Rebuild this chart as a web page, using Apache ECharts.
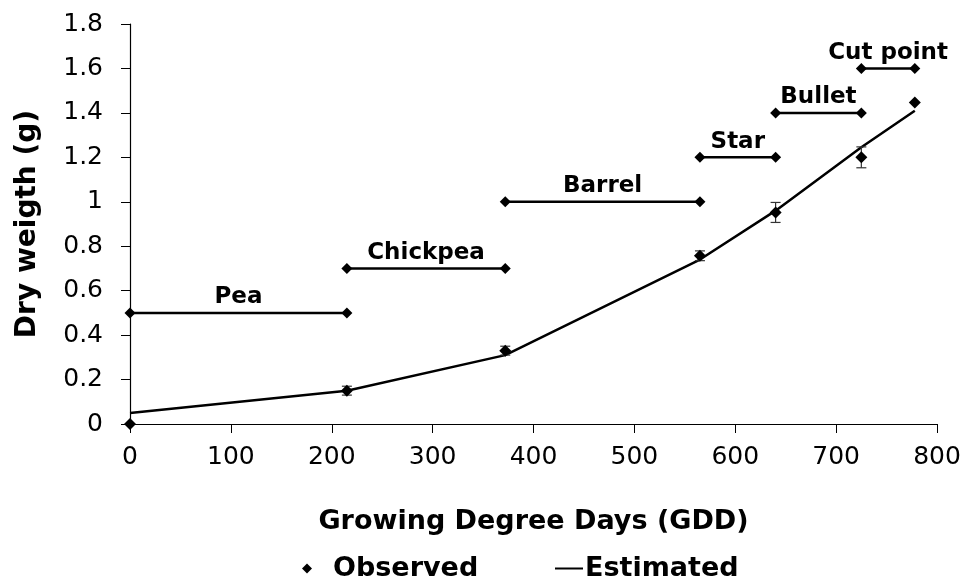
<!DOCTYPE html>
<html>
<head>
<meta charset="utf-8">
<script src="https://cdn.jsdelivr.net/npm/echarts@6/dist/echarts.min.js"></script>
<style>
  html, body { margin: 0; padding: 0; background: #fff; }
  #chart { width: 966px; height: 581px; }
</style>
</head>
<body>
<div id="chart"></div>
<script>
// observed dry weight with error bars
const obsGdd = [0, 215, 372, 565, 640, 725, 778];
const obsWeight = [0, 0.15, 0.33, 0.757, 0.952, 1.2, 1.447];
const obsErr = [0, 0.02, 0.02, 0.022, 0.045, 0.047, 0];

// fitted curve
const estGdd = [0, 215, 372, 565, 640, 725, 778];
const estWeight = [0.05, 0.15, 0.31, 0.74, 0.96, 1.245, 1.41];

// fruit development stages
const stageNames = ["Pea", "Chickpea", "Barrel", "Star", "Bullet", "Cut point"];
const stageStart = [0, 215, 372, 565, 640, 725];
const stageEnd = [215, 372, 565, 640, 725, 778];
const stageLevel = [0.5, 0.7, 1.0, 1.2, 1.4, 1.6];

const zip = (a, b) => a.map((v, i) => [v, b[i]]);
const font = "DejaVu Sans";

const stageSeries = stageNames.map((name, i) => ({
    type: "line",
    name: "stage-" + name,
    data: [[stageStart[i], stageLevel[i]], [stageEnd[i], stageLevel[i]]],
    symbol: "diamond",
    symbolSize: 11,
    showAllSymbol: true,
    itemStyle: { color: "#000" },
    lineStyle: { color: "#000", width: 2.5 },
    silent: true,
    z: 3
}));

const chart = echarts.init(document.getElementById("chart"));
chart.setOption({
    animation: false,
    backgroundColor: "#fff",
    textStyle: { fontFamily: font, color: "#000" },
    grid: { left: 130, right: 29, top: 24, bottom: 157 },
    legend: [{
        data: [{ name: "Observed", icon: "diamond" }],
        left: 297, top: 550,
        itemWidth: 10, itemHeight: 10, itemGap: 0,
        textStyle: { fontFamily: font, fontWeight: "bold", fontSize: 27, color: "#000", padding: [0, 0, 0, 16] }
    }, {
        data: [{ name: "Estimated", icon: "path://M0,0H28V2H0Z" }],
        left: 550, top: 550,
        itemWidth: 28, itemHeight: 2.5,
        textStyle: { fontFamily: font, fontWeight: "bold", fontSize: 27, color: "#000", padding: [0, 0, 0, -3] }
    }],
    xAxis: {
        type: "value",
        min: 0, max: 800, interval: 100,
        name: "Growing Degree Days (GDD)",
        nameLocation: "middle",
        nameGap: 84,
        nameTextStyle: { fontFamily: font, fontWeight: "bold", fontSize: 27, color: "#000" },
        axisLine: { lineStyle: { color: "#000", width: 1.2 } },
        axisTick: { inside: false, length: 9, lineStyle: { color: "#000" } },
        axisLabel: { fontFamily: font, fontSize: 25, color: "#000", margin: 21 },
        splitLine: { show: false }
    },
    yAxis: {
        type: "value",
        min: 0, max: 1.8, interval: 0.2,
        name: "Dry weigth (g)",
        nameLocation: "middle",
        nameGap: 88,
        nameTextStyle: { fontFamily: font, fontWeight: "bold", fontSize: 28, color: "#000" },
        axisLine: { show: true, lineStyle: { color: "#000", width: 1.2 } },
        axisTick: { show: true, inside: false, length: 9, lineStyle: { color: "#000" } },
        axisLabel: { fontFamily: font, fontSize: 25, color: "#000", margin: 27 },
        splitLine: { show: false }
    },
    series: [
        ...stageSeries,
        {
            type: "scatter",
            name: "stageLabels",
            data: stageNames.map((n, i) => [(stageStart[i] + stageEnd[i]) / 2, stageLevel[i], n]),
            symbolSize: 0,
            silent: true,
            itemStyle: { opacity: 1 },
            label: {
                show: true,
                position: "top",
                distance: 4,
                formatter: p => p.data[2],
                fontFamily: font,
                fontWeight: "bold",
                fontSize: 23,
                color: "#000"
            }
        },
        {
            type: "line",
            name: "Estimated",
            data: zip(estGdd, estWeight),
            symbol: "none",
            itemStyle: { color: "#000" },
            lineStyle: { color: "#000", width: 2.5 },
            z: 4
        },
        {
            type: "custom",
            name: "errorBars",
            data: obsGdd.map((g, i) => [g, obsWeight[i] - obsErr[i], obsWeight[i] + obsErr[i]]),
            renderItem: (params, api) => {
                if (api.value(2) - api.value(1) <= 0) return null;
                const lo = api.coord([api.value(0), api.value(1)]);
                const hi = api.coord([api.value(0), api.value(2)]);
                const w = 5;
                const style = { stroke: "#333", lineWidth: 1.2 };
                return {
                    type: "group",
                    children: [
                        { type: "line", shape: { x1: lo[0], y1: lo[1], x2: hi[0], y2: hi[1] }, style },
                        { type: "line", shape: { x1: lo[0] - w, y1: lo[1], x2: lo[0] + w, y2: lo[1] }, style },
                        { type: "line", shape: { x1: hi[0] - w, y1: hi[1], x2: hi[0] + w, y2: hi[1] }, style }
                    ]
                };
            },
            silent: true,
            z: 5
        },
        {
            type: "scatter",
            name: "Observed",
            data: zip(obsGdd, obsWeight),
            symbol: "diamond",
            symbolSize: 12,
            itemStyle: { color: "#000", opacity: 1 },
            z: 6
        }
    ]
});
</script>
</body>
</html>
